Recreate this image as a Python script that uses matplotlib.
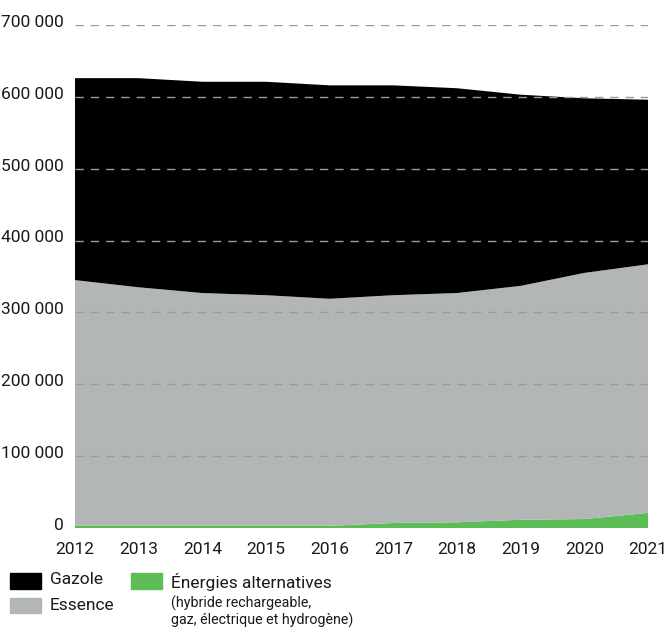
import matplotlib
matplotlib.use("Agg")
import matplotlib.pyplot as plt
import matplotlib.transforms as mtransforms
from matplotlib.patches import Rectangle

plt.rcParams['font.family'] = ["Roboto", 'DejaVu Sans']

years = [2012, 2013, 2014, 2015, 2016, 2017, 2018, 2019, 2020, 2021]
alternatives = [3000, 3000, 3000, 3000, 3000, 7000, 8000, 11500, 12500, 21000]
essence = [342000, 332000, 324000, 321000, 316000, 317000, 319000, 325500, 342500, 346000]
gazole = [281000, 291000, 294000, 297000, 297000, 292000, 285000, 266000, 243000, 229000]
yticks = [0, 100000, 200000, 300000, 400000, 500000, 600000, 700000]
ytick_labels = ["0", "100 000", "200 000", "300 000", "400 000", "500 000", "600 000", "700 000"]

fig = plt.figure(figsize=(6.69, 6.31), dpi=100)
ax = fig.add_axes([0.112, 0.1632, 0.8566, 0.7972])

ax.stackplot(years, alternatives, essence, gazole,
             colors=["#5cbd56", "#b3b6b7", "#000000"], linewidth=0)

for y in yticks[1:]:
    ax.axhline(y, color="#9a9a9a", lw=1.0, ls=(0, (6, 5)), zorder=3)

ax.set_xlim(2012, 2021)
ax.set_ylim(0, 700000)
ax.set_yticks(yticks)
ax.set_yticklabels(ytick_labels)
ax.set_xticks(years)
ax.set_xticklabels([str(y) for y in years])
ax.tick_params(axis='both', length=0, labelsize=12.5, colors="#1a1a1a")
ax.tick_params(axis='y', pad=8)
ax.tick_params(axis='x', pad=10)
offset = mtransforms.ScaledTranslation(0, 3 / 72, fig.dpi_scale_trans)
for lbl in ax.get_yticklabels():
    lbl.set_transform(lbl.get_transform() + offset)
for s in ax.spines.values():
    s.set_visible(False)

W, H = 669, 631
def fx(x): return x / W
def fy(y): return 1 - y / H

fig.patches.append(Rectangle((fx(10), fy(589)), fx(31), 16 / H, transform=fig.transFigure, color="#000000"))
fig.patches.append(Rectangle((fx(10), fy(613)), fx(31), 15 / H, transform=fig.transFigure, color="#b3b6b7"))
fig.patches.append(Rectangle((fx(131), fy(589)), fx(31), 16 / H, transform=fig.transFigure, color="#5cbd56"))
fig.text(fx(50), fy(580), "Gazole", fontsize=12.5, va="center", ha="left", color="#1a1a1a")
fig.text(fx(50), fy(605), "Essence", fontsize=12.5, va="center", ha="left", color="#1a1a1a")
fig.text(fx(171), fy(582), "Énergies alternatives", fontsize=12.5, va="center", ha="left", color="#1a1a1a")
fig.text(fx(171), fy(603), "(hybride rechargeable,", fontsize=10.3, va="center", ha="left", color="#1a1a1a")
fig.text(fx(171), fy(620), "gaz, électrique et hydrogène)", fontsize=10.3, va="center", ha="left", color="#1a1a1a")

fig.savefig("out.png", dpi=100)
